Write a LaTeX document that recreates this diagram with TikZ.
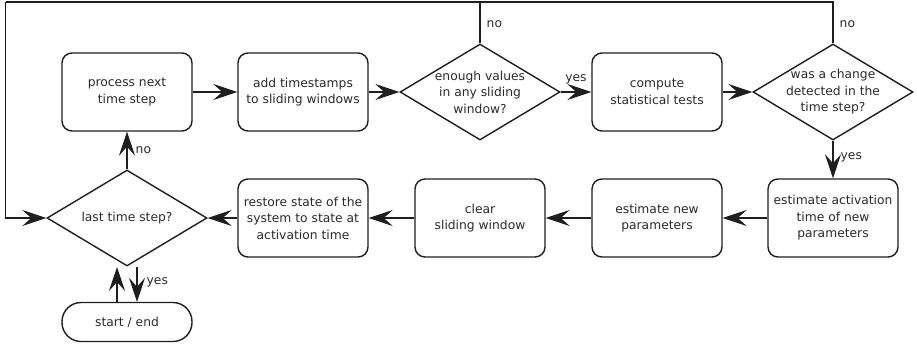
\documentclass[tikz,border=0pt]{standalone}
\usepackage{fontspec}
\setmainfont{DejaVu Sans}
\usetikzlibrary{shapes.geometric,arrows.meta}
\definecolor{ln}{HTML}{1E1E1E}
\definecolor{tx}{HTML}{2A2A2A}
\begin{document}
\begin{tikzpicture}[x=1pt,y=-1pt,
  every node/.style={font=\fontsize{12.3}{16.5}\selectfont, text=tx},
  box/.style={draw=ln, line width=1.4pt, rounded corners=10pt, minimum width=130pt, minimum height=78pt, align=center, inner sep=1pt},
  term/.style={draw=ln, line width=1.4pt, rounded corners=19pt, minimum width=130pt, minimum height=39pt, align=center},
  dec/.style={draw=ln, line width=1.4pt, diamond, aspect=1.667, minimum width=160pt, minimum height=96pt, inner sep=0pt},
  lbl/.style={font=\fontsize{12.3}{14}\selectfont, inner sep=1pt},
  flow/.style={draw=ln, line width=1.4pt, -{Stealth[length=24pt,width=16pt,inset=9pt]}},
  wire/.style={draw=ln, line width=1.4pt}]
\useasboundingbox (0,0) rectangle (917,346);
% row 1
\node[box] (pn) at (127,92) {process next\\time step};
\node[box] (at) at (303,92) {add timestamps\\to sliding windows};
\node[dec, label={[align=center]center:enough values\\in any sliding\\window?}] (d1) at (480,92) {};
\node[box] (cs) at (657,92) {compute\\statistical tests};
\node[dec, label={[align=center]center:was a change\\detected in the\\time step?}] (d2) at (833,92) {};
% row 2
\node[box] (ea) at (833,218) {estimate activation\\time of new\\parameters};
\node[box] (en) at (657,218) {estimate new\\parameters};
\node[box] (cl) at (480,218) {clear\\sliding window};
\node[box] (rs) at (303,218) {restore state of the\\system to state at\\activation time};
\node[dec, label={center:last time step?}] (d3) at (127,218) {};
\node[term] (se) at (127,322) {start / end};
% loop corners and stub ends
\coordinate (tl) at (5.5,1.8);
\coordinate (tr) at (833,1.8);
\coordinate (upend) at (117,267);
\coordinate (dnstart) at (137,267);
% connectors
\draw[flow] (pn) -- (at);
\draw[flow] (at) -- (d1);
\draw[flow] (d1) -- node[lbl, above=6pt] {yes} (cs);
\draw[flow] (cs) -- (d2);
\draw[flow] (d2) -- node[lbl, right=6pt, pos=0.45] {yes} (ea);
\draw[flow] (ea) -- (en);
\draw[flow] (en) -- (cl);
\draw[flow] (cl) -- (rs);
\draw[flow] (rs) -- (d3);
\draw[flow] (d3) -- node[lbl, right=7pt, pos=0.5] {no} (pn);
\draw[wire] (d2.north) -- node[lbl, right=5pt, pos=0.45] {no} (tr) -- (tl);
\draw[wire] (d1.north) -- node[lbl, right=5pt, pos=0.45] {no} (d1.north |- tl);
\draw[flow] (tl) |- (d3.west);
\draw[flow] (se.north -| upend) -- (upend);
\draw[flow] (dnstart) -- node[lbl, right=8pt, pos=0.45] {yes} (se.north -| dnstart);
\end{tikzpicture}
\end{document}
